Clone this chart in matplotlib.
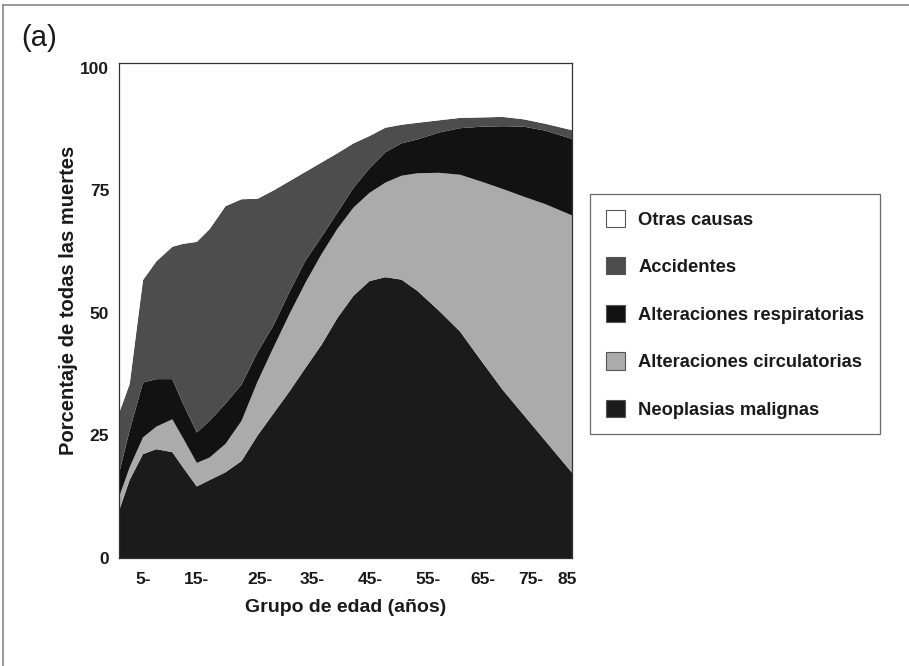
import matplotlib
matplotlib.use("Agg")
import matplotlib.pyplot as plt
from matplotlib.patches import Patch
from matplotlib.lines import Line2D

plt.rcParams["font.family"] = ["Liberation Sans", "DejaVu Sans"]

# Age (years) at which each share was read
edad = [0, 2, 4.5, 7, 10, 12, 14.6, 17, 20, 23, 26, 29, 32, 35, 38, 41,
        44, 47, 50, 53, 56, 60, 64, 68, 72, 76, 80, 85]

# Share of all deaths (%) per cause
neoplasias = [9.6, 15.9, 21.2, 22.2, 21.6, 18.5, 14.6, 15.9, 17.5, 19.8, 25.0,
              29.5, 34.0, 38.8, 43.5, 49.0, 53.5, 56.5, 57.3, 56.8, 54.5, 50.5,
              46.2, 40.2, 34.3, 29.1, 23.9, 17.4]
circulatorias = [2.8, 2.6, 3.4, 4.6, 6.7, 6.0, 4.8, 4.6, 5.8, 8.2, 11.0, 13.5,
                 15.8, 17.4, 18.5, 18.2, 18.0, 18.0, 19.3, 21.2, 24.0, 28.1,
                 32.0, 36.6, 41.0, 44.6, 48.3, 52.5]
respiratorias = [4.8, 7.5, 11.2, 9.7, 8.2, 7.0, 6.2, 7.5, 8.2, 7.4, 6.0, 4.5,
                 4.5, 4.5, 3.5, 3.3, 4.0, 5.0, 6.2, 6.6, 6.9, 8.2, 9.5, 11.2,
                 12.8, 14.3, 15.0, 15.6]
accidentes = [12.3, 9.5, 20.9, 24.0, 27.0, 32.6, 38.9, 39.1, 40.3, 37.8, 31.3,
              27.5, 22.6, 18.1, 15.2, 12.1, 9.1, 6.6, 5.0, 3.8, 3.4, 2.5, 2.1,
              1.9, 1.9, 1.5, 1.4, 1.8]
otras = [100 - a - b - c - d for a, b, c, d in
         zip(neoplasias, circulatorias, respiratorias, accidentes)]

etiquetas = ["Neoplasias malignas", "Alteraciones circulatorias",
             "Alteraciones respiratorias", "Accidentes", "Otras causas"]
colores = ["#1b1b1b", "#ababab", "#121212", "#4d4d4d", "#ffffff"]

tick_pos = [4.5, 14.6, 26.5, 36.2, 47.1, 58.0, 68.3, 77.3, 84.1]
tick_lab = ["5-", "15-", "25-", "35-", "45-", "55-", "65-", "75-", "85"]
y_ticks = [0, 25, 50, 75, 100]

fig = plt.figure(figsize=(9.09, 6.66), dpi=100)
ax = fig.add_axes([119 / 909, 1 - 558 / 666, 453 / 909, 495 / 666])

ax.stackplot(edad, neoplasias, circulatorias, respiratorias, accidentes, otras,
             colors=colores, linewidth=0)

ax.set_xlim(0, 85)
ax.set_ylim(0, 101)
ax.set_xticks(tick_pos)
ax.set_xticklabels(tick_lab)
ax.set_yticks(y_ticks)
ax.tick_params(axis="both", length=0, labelsize=12.5)
ax.tick_params(axis="x", pad=10)
ax.tick_params(axis="y", pad=7)
for lab in ax.get_xticklabels() + ax.get_yticklabels():
    lab.set_fontweight("bold")
    lab.set_color("#1a1a1a")
for sp in ax.spines.values():
    sp.set_linewidth(0.9)
    sp.set_color("#333333")

ax.set_xlabel("Grupo de edad (años)", fontsize=14, fontweight="bold",
              color="#1a1a1a", labelpad=9)
ax.set_ylabel("Porcentaje de todas las muertes", fontsize=14.5,
              fontweight="bold", color="#1a1a1a", labelpad=2)
ax.yaxis.label.set_y(0.52)

# Legend, top entry first
handles = [Patch(facecolor=c, edgecolor="#555555", linewidth=0.8)
           for c in colores[::-1]]
leg = fig.legend(handles, etiquetas[::-1], loc="upper left",
                 bbox_to_anchor=(590 / 909, 1 - 194 / 666),
                 prop={"weight": "bold", "size": 13.2},
                 frameon=True, fancybox=False, edgecolor="#444444",
                 handlelength=1.08, handleheight=1.08, handletextpad=0.7,
                 labelspacing=1.56, borderpad=0.85, borderaxespad=0)
leg.get_frame().set_linewidth(0.9)
for t in leg.get_texts():
    t.set_color("#1a1a1a")

# Panel letter and surrounding frame
fig.text(21 / 909, 1 - 38 / 666, "(a)", fontsize=21, va="center", ha="left",
         color="#1a1a1a")
fig.add_artist(Line2D([3 / 909, 1.0], [1 - 5 / 666, 1 - 5 / 666],
                      transform=fig.transFigure, color="#888888", lw=1.2))
fig.add_artist(Line2D([3 / 909, 3 / 909], [0.0, 1 - 5 / 666],
                      transform=fig.transFigure, color="#888888", lw=1.2))

fig.savefig("out.png", dpi=100)
